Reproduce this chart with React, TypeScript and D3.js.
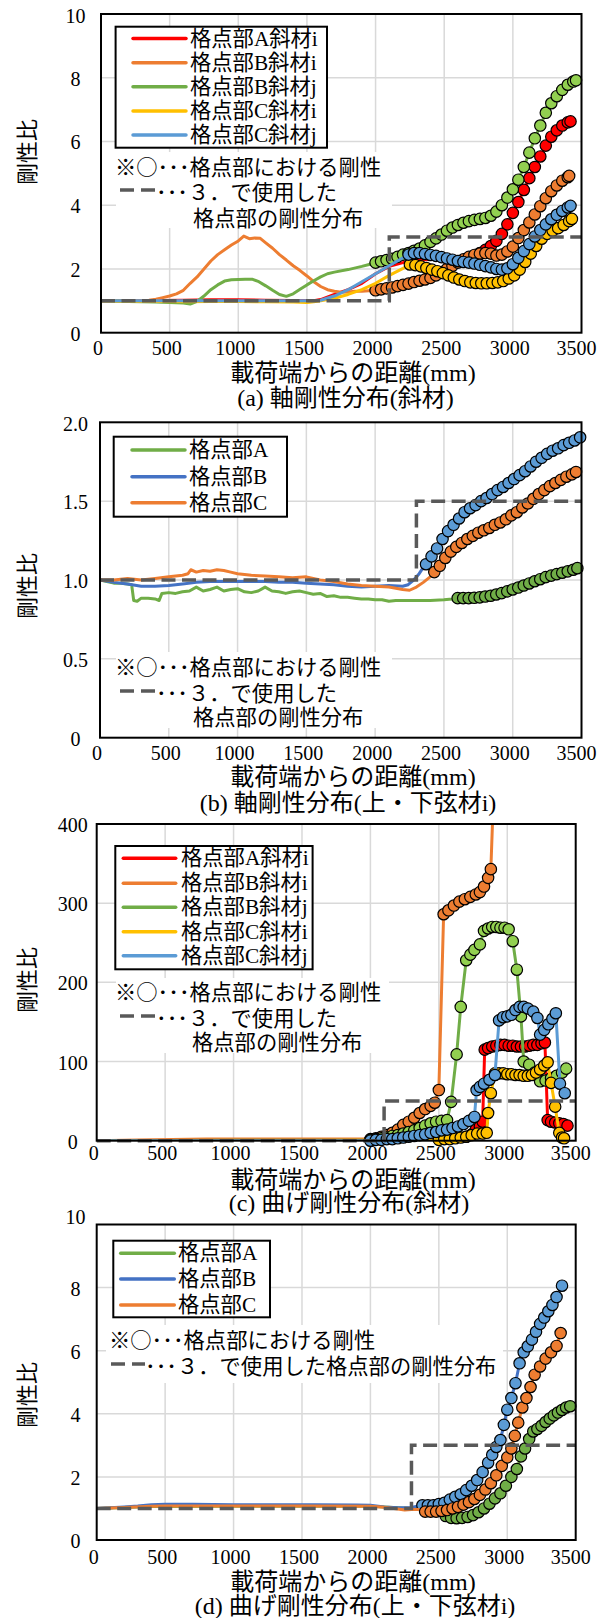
import React from "react";
import * as d3 from "d3";

type P = [number, number];

// ---------- shared labels / ticks ----------
const xTickValues = [0, 500, 1000, 1500, 2000, 2500, 3000, 3500];
const yTicksA = [0, 2, 4, 6, 8, 10];
const yTicksB = [0, 0.5, 1.0, 1.5, 2.0];
const yTicksC = [0, 100, 200, 300, 400];
const yTicksD = [0, 2, 4, 6, 8, 10];
const legendDiag = ["格点部A斜材i", "格点部B斜材i", "格点部B斜材j", "格点部C斜材i", "格点部C斜材j"];
const legendChord = ["格点部A", "格点部B", "格点部C"];
const captions = [
  "(a) 軸剛性分布(斜材)",
  "(b) 軸剛性分布(上・下弦材i)",
  "(c) 曲げ剛性分布(斜材)",
  "(d) 曲げ剛性分布(上・下弦材i)",
];
const xTitle = "載荷端からの距離(mm)";
const yTitle = "剛性比";
const noteLine1 = "※○･･･格点部における剛性";
const noteLine2 = "･･･３．で使用した";
const noteLine3 = "格点部の剛性分布";
const noteLine2Long = "･･･３．で使用した格点部の剛性分布";

// ---------- (a) 軸剛性分布(斜材) ----------
const aStep: P[] = [[0, 1], [2100, 1], [2100, 3], [3500, 3]];
const aRed: P[] = [[0, 1.0], [200, 1.0], [400, 1.01], [600, 1.02], [800, 1.03], [1000, 1.03], [1200, 1.02], [1400, 1.01], [1550, 1.0], [1600, 1.04], [1700, 1.2], [1800, 1.35], [1900, 1.55], [2000, 1.85], [2100, 2.08], [2200, 2.2], [2300, 2.28], [2400, 2.3], [2500, 2.3], [2600, 2.35], [2700, 2.45], [2760, 2.5], [2800, 2.6], [2840, 2.72], [2880, 2.88], [2920, 3.1], [2960, 3.4], [3000, 3.76], [3040, 4.1], [3080, 4.48], [3120, 4.85], [3160, 5.2], [3200, 5.53], [3240, 5.87], [3280, 6.15], [3320, 6.35], [3360, 6.5], [3400, 6.6], [3420, 6.63]];
const aOrange: P[] = [[0, 1.0], [300, 1.0], [350, 1.02], [400, 1.05], [450, 1.1], [500, 1.15], [550, 1.22], [600, 1.33], [650, 1.55], [700, 1.75], [750, 2.0], [800, 2.25], [850, 2.45], [900, 2.6], [950, 2.75], [1000, 2.88], [1040, 3.03], [1080, 2.95], [1120, 2.97], [1160, 2.96], [1200, 2.82], [1250, 2.65], [1300, 2.45], [1350, 2.28], [1400, 2.1], [1450, 1.95], [1500, 1.78], [1550, 1.6], [1600, 1.45], [1650, 1.35], [1700, 1.3], [1750, 1.27], [1800, 1.28], [1850, 1.3], [1900, 1.3], [1950, 1.32], [2000, 1.33], [2040, 1.36], [2080, 1.39], [2120, 1.42], [2160, 1.46], [2200, 1.5], [2240, 1.54], [2280, 1.59], [2320, 1.63], [2360, 1.67], [2400, 1.72], [2440, 1.8], [2480, 1.9], [2520, 2.0], [2560, 2.1], [2600, 2.2], [2640, 2.3], [2680, 2.38], [2720, 2.44], [2760, 2.48], [2800, 2.5], [2840, 2.48], [2880, 2.42], [2920, 2.45], [2960, 2.55], [3000, 2.7], [3040, 2.97], [3080, 3.22], [3120, 3.46], [3160, 3.71], [3200, 3.97], [3240, 4.22], [3280, 4.44], [3320, 4.62], [3360, 4.77], [3400, 4.88], [3410, 4.92]];
const aGreen: P[] = [[0, 1.0], [200, 0.98], [400, 0.96], [500, 0.95], [600, 0.93], [650, 0.9], [700, 0.98], [750, 1.15], [800, 1.35], [850, 1.5], [900, 1.62], [950, 1.66], [1000, 1.67], [1050, 1.68], [1100, 1.68], [1150, 1.6], [1200, 1.47], [1250, 1.33], [1300, 1.2], [1350, 1.14], [1400, 1.22], [1450, 1.36], [1500, 1.5], [1550, 1.63], [1600, 1.75], [1650, 1.85], [1700, 1.9], [1800, 1.98], [1900, 2.08], [1960, 2.15], [2000, 2.2], [2040, 2.24], [2080, 2.28], [2120, 2.32], [2160, 2.38], [2200, 2.45], [2240, 2.5], [2280, 2.57], [2320, 2.64], [2360, 2.74], [2400, 2.85], [2440, 2.96], [2480, 3.08], [2520, 3.2], [2560, 3.3], [2600, 3.38], [2640, 3.45], [2680, 3.5], [2720, 3.54], [2760, 3.57], [2800, 3.6], [2840, 3.67], [2880, 3.8], [2920, 4.0], [2960, 4.24], [3000, 4.5], [3040, 4.8], [3080, 5.2], [3120, 5.65], [3160, 6.1], [3200, 6.5], [3240, 6.9], [3280, 7.2], [3320, 7.42], [3360, 7.62], [3400, 7.78], [3440, 7.88], [3460, 7.92]];
const aYellow: P[] = [[0, 1.0], [200, 0.99], [400, 0.98], [600, 0.97], [800, 0.98], [1000, 0.98], [1200, 0.97], [1400, 0.96], [1500, 0.95], [1550, 0.97], [1600, 1.0], [1700, 1.08], [1800, 1.2], [1900, 1.35], [2000, 1.55], [2100, 1.8], [2200, 2.02], [2250, 2.14], [2290, 2.12], [2330, 2.08], [2370, 2.03], [2410, 1.98], [2450, 1.93], [2490, 1.87], [2530, 1.8], [2570, 1.73], [2610, 1.67], [2650, 1.62], [2690, 1.58], [2730, 1.56], [2770, 1.55], [2810, 1.55], [2850, 1.56], [2890, 1.58], [2930, 1.62], [2970, 1.7], [3010, 1.8], [3050, 1.98], [3090, 2.22], [3130, 2.48], [3170, 2.72], [3210, 2.95], [3250, 3.1], [3290, 3.2], [3330, 3.28], [3370, 3.38], [3410, 3.5], [3430, 3.57]];
const aBlue: P[] = [[0, 1.0], [400, 1.0], [800, 1.0], [1200, 1.0], [1550, 1.0], [1600, 1.02], [1700, 1.15], [1800, 1.35], [1900, 1.6], [2000, 1.85], [2100, 2.1], [2200, 2.35], [2240, 2.45], [2280, 2.5], [2320, 2.5], [2360, 2.47], [2400, 2.44], [2440, 2.41], [2480, 2.37], [2520, 2.33], [2560, 2.29], [2600, 2.25], [2640, 2.22], [2680, 2.2], [2720, 2.17], [2760, 2.13], [2800, 2.09], [2840, 2.05], [2880, 2.0], [2920, 1.98], [2960, 2.02], [3000, 2.15], [3040, 2.35], [3080, 2.56], [3120, 2.78], [3160, 3.02], [3200, 3.22], [3240, 3.4], [3280, 3.56], [3320, 3.7], [3360, 3.82], [3400, 3.93], [3420, 3.98]];

// ---------- (b) 軸剛性分布(上・下弦材i) ----------
const bStep: P[] = [[0, 1], [2300, 1], [2300, 1.5], [3500, 1.5]];
const bGreen: P[] = [[0, 1.0], [50, 0.99], [100, 0.98], [150, 0.98], [200, 0.975], [230, 0.97], [245, 0.87], [270, 0.865], [300, 0.885], [350, 0.885], [400, 0.88], [430, 0.87], [450, 0.915], [500, 0.92], [550, 0.915], [600, 0.925], [650, 0.93], [700, 0.955], [750, 0.93], [800, 0.94], [850, 0.955], [900, 0.93], [950, 0.94], [1000, 0.945], [1050, 0.925], [1100, 0.92], [1150, 0.93], [1200, 0.955], [1250, 0.93], [1300, 0.925], [1350, 0.915], [1400, 0.925], [1450, 0.93], [1500, 0.92], [1550, 0.91], [1600, 0.915], [1650, 0.895], [1700, 0.9], [1750, 0.89], [1800, 0.89], [1850, 0.885], [1900, 0.88], [1950, 0.88], [2000, 0.875], [2050, 0.875], [2100, 0.865], [2150, 0.87], [2200, 0.87], [2300, 0.87], [2400, 0.87], [2500, 0.875], [2560, 0.88], [2600, 0.885], [2640, 0.885], [2680, 0.885], [2720, 0.887], [2760, 0.89], [2800, 0.895], [2840, 0.9], [2880, 0.908], [2920, 0.917], [2960, 0.928], [3000, 0.94], [3040, 0.952], [3080, 0.965], [3120, 0.978], [3160, 0.992], [3200, 1.005], [3240, 1.018], [3280, 1.028], [3320, 1.037], [3360, 1.046], [3400, 1.055], [3440, 1.065], [3470, 1.075]];
const bBlue: P[] = [[0, 1.0], [100, 0.985], [200, 0.975], [300, 0.96], [400, 0.96], [500, 0.965], [600, 0.975], [700, 0.985], [800, 0.99], [900, 0.99], [1000, 0.99], [1100, 0.99], [1200, 0.99], [1300, 0.985], [1400, 0.985], [1500, 0.98], [1600, 0.975], [1700, 0.97], [1800, 0.96], [1900, 0.955], [2000, 0.96], [2100, 0.965], [2200, 0.96], [2240, 0.97], [2280, 1.0], [2320, 1.04], [2350, 1.08], [2370, 1.1], [2410, 1.15], [2450, 1.2], [2490, 1.26], [2530, 1.31], [2570, 1.35], [2610, 1.39], [2650, 1.43], [2690, 1.455], [2730, 1.475], [2770, 1.5], [2810, 1.52], [2850, 1.545], [2890, 1.57], [2930, 1.59], [2970, 1.615], [3010, 1.64], [3050, 1.665], [3090, 1.69], [3130, 1.72], [3170, 1.75], [3210, 1.775], [3250, 1.8], [3290, 1.82], [3330, 1.835], [3370, 1.855], [3410, 1.87], [3450, 1.885], [3490, 1.905]];
const bOrange: P[] = [[0, 1.0], [100, 1.0], [200, 1.01], [300, 1.0], [400, 1.01], [500, 1.02], [600, 1.03], [640, 1.04], [660, 1.065], [700, 1.05], [750, 1.06], [800, 1.055], [850, 1.065], [900, 1.06], [950, 1.05], [1000, 1.04], [1100, 1.03], [1200, 1.025], [1300, 1.02], [1400, 1.015], [1500, 1.02], [1550, 1.01], [1600, 1.0], [1700, 0.99], [1800, 0.975], [1900, 0.965], [2000, 0.96], [2100, 0.955], [2200, 0.94], [2250, 0.935], [2300, 0.955], [2350, 0.985], [2400, 1.02], [2430, 1.05], [2470, 1.09], [2510, 1.14], [2550, 1.18], [2590, 1.21], [2630, 1.235], [2670, 1.26], [2710, 1.28], [2750, 1.3], [2790, 1.315], [2830, 1.33], [2870, 1.35], [2910, 1.365], [2950, 1.385], [2990, 1.41], [3030, 1.43], [3070, 1.46], [3110, 1.485], [3150, 1.515], [3190, 1.545], [3230, 1.57], [3270, 1.595], [3310, 1.615], [3350, 1.635], [3390, 1.655], [3430, 1.67], [3460, 1.685]];

// ---------- (c) 曲げ剛性分布(斜材) ----------
const cStep: P[] = [[0, 0], [2100, 0], [2100, 50], [3500, 50]];
const cRed: P[] = [[0, 0], [1000, 0], [2000, 0.5], [2400, 2], [2700, 5], [2740, 8], [2770, 14], [2800, 18], [2820, 24], [2835, 115], [2860, 117], [2890, 119], [2920, 120], [2950, 121], [2980, 121], [3010, 120], [3040, 120], [3070, 119], [3100, 119], [3130, 119], [3160, 120], [3190, 121], [3220, 121], [3250, 123], [3275, 124], [3295, 26], [3320, 24], [3350, 23], [3380, 22], [3410, 21], [3440, 19]];
const cOrange: P[] = [[0, 0], [300, 1], [800, 2], [1500, 2], [2000, 2], [2040, 3], [2080, 5], [2120, 7], [2160, 10], [2200, 14], [2240, 20], [2280, 24], [2320, 29], [2360, 35], [2400, 40], [2440, 44], [2470, 48], [2500, 64], [2535, 286], [2570, 291], [2610, 297], [2650, 302], [2690, 305], [2730, 308], [2770, 311], [2800, 314], [2830, 321], [2860, 332], [2880, 343], [2900, 440]];
const cGreen: P[] = [[0, 0], [1000, 0.5], [2000, 1], [2040, 2], [2080, 3], [2120, 4], [2160, 6], [2200, 7], [2240, 9], [2280, 11], [2320, 13], [2360, 16], [2400, 19], [2440, 22], [2480, 24], [2520, 25], [2560, 26], [2590, 49], [2630, 109], [2660, 169], [2700, 228], [2730, 235], [2760, 241], [2800, 248], [2830, 265], [2860, 268], [2890, 270], [2920, 270], [2950, 269], [2980, 269], [3010, 267], [3040, 252], [3070, 216], [3100, 157], [3120, 100], [3160, 96], [3200, 86], [3240, 75], [3280, 76], [3320, 79], [3360, 82], [3400, 86], [3430, 91]];
const cYellow: P[] = [[0, 0], [1000, 0], [2000, 0.5], [2500, 1], [2540, 2], [2580, 2], [2620, 3], [2660, 4], [2700, 5], [2740, 7], [2780, 9], [2820, 9], [2850, 10], [2860, 35], [2880, 60], [2910, 85], [2940, 85], [2970, 85], [3000, 84], [3030, 84], [3060, 83], [3090, 83], [3120, 82], [3150, 82], [3180, 83], [3210, 86], [3240, 90], [3270, 95], [3295, 99], [3320, 73], [3350, 43], [3380, 10], [3400, 4], [3415, 3]];
const cBlue: P[] = [[0, 0], [1000, 0], [2000, 0], [2040, 1], [2080, 1], [2120, 2], [2160, 2], [2200, 3], [2240, 4], [2280, 5], [2320, 6], [2360, 7], [2400, 8], [2440, 10], [2480, 11], [2520, 13], [2560, 14], [2600, 16], [2640, 18], [2680, 21], [2720, 25], [2760, 30], [2776, 64], [2800, 68], [2830, 72], [2870, 77], [2910, 83], [2940, 152], [2970, 156], [3000, 157], [3030, 159], [3060, 165], [3090, 169], [3120, 169], [3150, 167], [3190, 163], [3220, 155], [3240, 134], [3270, 140], [3300, 147], [3330, 154], [3355, 161], [3385, 72], [3420, 60]];

// ---------- (d) 曲げ剛性分布(上・下弦材i) ----------
const dStep: P[] = [[0, 1], [2300, 1], [2300, 3], [3500, 3]];
const dGreen: P[] = [[0, 1.0], [200, 1.03], [400, 1.06], [1000, 1.07], [2000, 1.07], [2200, 1.02], [2300, 1.0], [2400, 0.95], [2500, 0.85], [2550, 0.76], [2590, 0.7], [2630, 0.69], [2670, 0.7], [2710, 0.73], [2750, 0.79], [2790, 0.88], [2830, 1.0], [2870, 1.15], [2910, 1.32], [2950, 1.48], [2990, 1.72], [3030, 2.0], [3070, 2.25], [3100, 2.65], [3130, 2.9], [3160, 3.2], [3190, 3.44], [3220, 3.52], [3250, 3.62], [3280, 3.74], [3310, 3.85], [3340, 3.95], [3370, 4.04], [3400, 4.12], [3430, 4.2], [3460, 4.24]];
const dBlue: P[] = [[0, 1.0], [100, 1.02], [200, 1.05], [300, 1.08], [400, 1.12], [500, 1.13], [700, 1.13], [1000, 1.12], [1300, 1.12], [1600, 1.12], [1900, 1.11], [2000, 1.1], [2100, 1.05], [2200, 1.02], [2300, 1.03], [2350, 1.08], [2380, 1.1], [2420, 1.1], [2460, 1.1], [2500, 1.14], [2540, 1.18], [2580, 1.28], [2620, 1.37], [2660, 1.45], [2700, 1.58], [2740, 1.72], [2780, 1.9], [2820, 2.15], [2860, 2.45], [2890, 2.7], [2920, 2.95], [2950, 3.17], [2975, 3.65], [3000, 4.13], [3030, 4.5], [3060, 4.97], [3090, 5.6], [3120, 5.95], [3150, 6.14], [3180, 6.35], [3210, 6.6], [3240, 6.85], [3270, 7.05], [3300, 7.25], [3330, 7.45], [3360, 7.7], [3400, 8.06]];
const dOrange: P[] = [[0, 1.0], [200, 1.03], [400, 1.07], [500, 1.08], [1000, 1.08], [1500, 1.08], [2000, 1.07], [2100, 1.04], [2200, 0.98], [2250, 0.95], [2300, 0.97], [2350, 0.97], [2400, 0.9], [2440, 0.9], [2480, 0.9], [2520, 0.92], [2560, 0.95], [2600, 1.0], [2640, 1.05], [2680, 1.12], [2720, 1.2], [2760, 1.3], [2800, 1.43], [2840, 1.6], [2880, 1.8], [2920, 2.05], [2960, 2.35], [3000, 2.62], [3030, 2.9], [3055, 3.3], [3080, 3.72], [3110, 4.2], [3140, 4.5], [3170, 4.85], [3200, 5.24], [3240, 5.5], [3280, 5.75], [3320, 5.95], [3360, 6.15], [3390, 6.56]];

// ---------- styles ----------
const SERIF = "'Liberation Serif','Times New Roman',Times,'Noto Sans CJK JP',serif";
const JP = "'Noto Sans CJK JP','Noto Sans CJK SC',sans-serif";
const C_RED = "#FF0000";
const C_ORANGE = "#ED7D31";
const C_GREEN = "#70AD47";
const C_LGREEN = "#92D050";
const C_YELLOW = "#FFC000";
const C_LBLUE = "#5B9BD5";
const C_BLUE = "#4472C4";
const C_GRID = "#D9D9D9";
const C_DASH = "#595959";

interface Series { pts: P[]; from: number; stroke: string; fill: string }
interface Cfg {
  top: number; bottom: number; left: number; right: number; yMax: number;
  yTicks: number[]; fmt: (v: number) => string; tickX: number; topLabelDy: number;
  xTickY: number; xTitleY: number; captionX: number; captionY: number; caption: string; yTitleY: number;
  series: Series[]; step: P[];
  legend: { x: number; y: number; w: number; h: number; lx1: number; lx2: number; tx: number; rows: number[]; labels: string[]; colors: string[] };
  note: { x: number; y: number; w: number; h: number; tx: number; l1y: number; l2y: number; l3y: number | null; d1: number; d2: number; l2x: number; l3x: number; long: boolean };
}

const cfgs: Cfg[] = [
  {
    top: 14, bottom: 332.7, left: 101, right: 581.5, yMax: 10, yTicks: yTicksA, fmt: (v) => String(v), tickX: 75.5, topLabelDy: 2,
    xTickY: 348, xTitleY: 373, captionX: 345.5, captionY: 398, caption: captions[0], yTitleY: 152,
    series: [
      { pts: aRed, from: 2760, stroke: C_RED, fill: C_RED },
      { pts: aOrange, from: 2000, stroke: C_ORANGE, fill: C_ORANGE },
      { pts: aGreen, from: 2000, stroke: C_GREEN, fill: C_LGREEN },
      { pts: aYellow, from: 2250, stroke: C_YELLOW, fill: C_YELLOW },
      { pts: aBlue, from: 2240, stroke: C_LBLUE, fill: C_LBLUE },
    ],
    step: aStep,
    legend: { x: 115.6, y: 26.7, w: 211.4, h: 121, lx1: 133, lx2: 186, tx: 190, rows: [38.5, 62.7, 86.8, 111, 135], labels: legendDiag, colors: [C_RED, C_ORANGE, C_GREEN, C_YELLOW, C_LBLUE] },
    note: { x: 116, y: 152, w: 276, h: 76, tx: 115, l1y: 165, l2y: 190, l3y: 216.5, d1: 120, d2: 155, l2x: 156, l3x: 193, long: false },
  },
  {
    top: 422.3, bottom: 737.7, left: 100, right: 581.5, yMax: 2, yTicks: yTicksB, fmt: (v) => (v === 0 ? "0" : v.toFixed(1)), tickX: 75.5, topLabelDy: 2,
    xTickY: 753.3, xTitleY: 776.7, captionX: 348, captionY: 803, caption: captions[1], yTitleY: 586,
    series: [
      { pts: bGreen, from: 2600, stroke: C_GREEN, fill: C_GREEN },
      { pts: bBlue, from: 2370, stroke: C_BLUE, fill: C_LBLUE },
      { pts: bOrange, from: 2430, stroke: C_ORANGE, fill: C_ORANGE },
    ],
    step: bStep,
    legend: { x: 113.7, y: 436.7, w: 173.3, h: 80, lx1: 132, lx2: 185, tx: 189, rows: [450, 476.7, 502.7], labels: legendChord, colors: [C_GREEN, C_BLUE, C_ORANGE] },
    note: { x: 116, y: 652, w: 276, h: 76, tx: 115, l1y: 665, l2y: 691, l3y: 715, d1: 120, d2: 155, l2x: 156, l3x: 193, long: false },
  },
  {
    top: 824, bottom: 1140.7, left: 96.7, right: 575.7, yMax: 400, yTicks: yTicksC, fmt: (v) => String(v), tickX: 72.7, topLabelDy: 1,
    xTickY: 1153, xTitleY: 1180, captionX: 349, captionY: 1203, caption: captions[2], yTitleY: 980,
    series: [
      { pts: cRed, from: 2700, stroke: C_RED, fill: C_RED },
      { pts: cOrange, from: 2000, stroke: C_ORANGE, fill: C_ORANGE },
      { pts: cGreen, from: 2000, stroke: C_GREEN, fill: C_LGREEN },
      { pts: cYellow, from: 2500, stroke: C_YELLOW, fill: C_YELLOW },
      { pts: cBlue, from: 2000, stroke: C_LBLUE, fill: C_LBLUE },
    ],
    step: cStep,
    legend: { x: 115.3, y: 846, w: 197.3, h: 123.3, lx1: 123.3, lx2: 175.7, tx: 181, rows: [858.3, 883.3, 907.3, 931.7, 955.7], labels: legendDiag, colors: [C_RED, C_ORANGE, C_GREEN, C_YELLOW, C_LBLUE] },
    note: { x: 116, y: 978, w: 273, h: 75, tx: 115, l1y: 990, l2y: 1016, l3y: 1040.7, d1: 120, d2: 155, l2x: 156, l3x: 192, long: false },
  },
  {
    top: 1224.5, bottom: 1540, left: 96.7, right: 575.7, yMax: 10, yTicks: yTicksD, fmt: (v) => String(v), tickX: 75.5, topLabelDy: -8,
    xTickY: 1557, xTitleY: 1582, captionX: 355, captionY: 1606, caption: captions[3], yTitleY: 1395,
    series: [
      { pts: dGreen, from: 2550, stroke: C_GREEN, fill: C_GREEN },
      { pts: dBlue, from: 2380, stroke: C_BLUE, fill: C_LBLUE },
      { pts: dOrange, from: 2400, stroke: C_ORANGE, fill: C_ORANGE },
    ],
    step: dStep,
    legend: { x: 113.3, y: 1240.7, w: 156.7, h: 76.6, lx1: 120.7, lx2: 174.3, tx: 178, rows: [1253.3, 1279, 1305], labels: legendChord, colors: [C_GREEN, C_BLUE, C_ORANGE] },
    note: { x: 106, y: 1325, w: 397, h: 58, tx: 109, l1y: 1338.3, l2y: 1364, l3y: null, d1: 111, d2: 145, l2x: 145, l3x: 0, long: true },
  },
];

function Panel({ cfg, idx }: { cfg: Cfg; idx: number }) {
  const x = d3.scaleLinear().domain([0, 3500]).range([cfg.left, cfg.right]);
  const y = d3.scaleLinear().domain([0, cfg.yMax]).range([cfg.bottom, cfg.top]);
  const line = d3.line<P>().x((d) => x(d[0])).y((d) => y(d[1]));
  const clipId = `plotclip${idx}`;
  const lg = cfg.legend;
  const nt = cfg.note;
  const lastX = xTickValues[xTickValues.length - 1];
  return (
    <g>
      <defs>
        <clipPath id={clipId}>
          <rect x={cfg.left} y={cfg.top} width={cfg.right - cfg.left} height={cfg.bottom - cfg.top} />
        </clipPath>
      </defs>
      {xTickValues.slice(1, -1).map((v) => (
        <line key={"gx" + v} x1={x(v)} x2={x(v)} y1={cfg.top} y2={cfg.bottom} stroke={C_GRID} strokeWidth={1.5} />
      ))}
      {cfg.yTicks.slice(1, -1).map((v) => (
        <line key={"gy" + v} x1={cfg.left} x2={cfg.right} y1={y(v)} y2={y(v)} stroke={C_GRID} strokeWidth={1.5} />
      ))}
      <rect x={nt.x} y={nt.y} width={nt.w} height={nt.h} fill="#fff" />
      {cfg.series.map((s, k) => (
        <g key={"s" + k}>
          <path d={line(s.pts) || ""} fill="none" stroke={s.stroke} strokeWidth={3} strokeLinejoin="round" strokeLinecap="round" clipPath={`url(#${clipId})`} />
          {s.pts.filter((p) => p[0] >= s.from && p[1] <= cfg.yMax).map((p, j) => (
            <circle key={j} cx={x(p[0])} cy={y(p[1])} r={5.7} fill={s.fill} stroke="#000" strokeWidth={1.2} />
          ))}
        </g>
      ))}
      <path d={line(cfg.step) || ""} fill="none" stroke={C_DASH} strokeWidth={3.5} strokeDasharray="14 6.5" />
      <rect x={cfg.left} y={cfg.top} width={cfg.right - cfg.left} height={cfg.bottom - cfg.top} fill="none" stroke="#000" strokeWidth={2} />
      <rect x={lg.x} y={lg.y} width={lg.w} height={lg.h} fill="#fff" stroke="#000" strokeWidth={2} />
      {lg.labels.map((t, k) => (
        <g key={"lg" + k}>
          <line x1={lg.lx1} x2={lg.lx2} y1={lg.rows[k]} y2={lg.rows[k]} stroke={lg.colors[k]} strokeWidth={3.5} strokeLinecap="round" />
          <text x={lg.tx} y={lg.rows[k]} dominantBaseline="central" fontSize={21.3} fontFamily={SERIF} fill="#000">{t}</text>
        </g>
      ))}
      <text x={nt.tx} y={nt.l1y} dominantBaseline="central" fontSize={21.3} fontFamily={JP} fill="#000">{noteLine1}</text>
      <line x1={nt.d1} x2={nt.d2} y1={nt.l2y} y2={nt.l2y} stroke={C_DASH} strokeWidth={3.5} strokeDasharray="14 7" />
      <text x={nt.l2x} y={nt.l2y} dominantBaseline="central" fontSize={21.3} fontFamily={JP} fill="#000">{nt.long ? noteLine2Long : noteLine2}</text>
      {nt.l3y !== null && (
        <text x={nt.l3x} y={nt.l3y} dominantBaseline="central" fontSize={21.3} fontFamily={JP} fill="#000">{noteLine3}</text>
      )}
      {cfg.yTicks.map((v, k) => (
        <text key={"yt" + v} x={cfg.tickX} y={y(v) + (k === cfg.yTicks.length - 1 ? cfg.topLabelDy : 1)} textAnchor="middle" dominantBaseline="central" fontSize={20} fontFamily={SERIF} fill="#000">
          {cfg.fmt(v)}
        </text>
      ))}
      {xTickValues.map((v) => (
        <text key={"xt" + v} x={x(v) - (v === lastX ? 5 : 3)} y={cfg.xTickY} textAnchor="middle" dominantBaseline="central" fontSize={20} fontFamily={SERIF} fill="#000">
          {v}
        </text>
      ))}
      <text x={353} y={cfg.xTitleY} textAnchor="middle" dominantBaseline="central" fontSize={24} fontFamily={SERIF} fill="#000">{xTitle}</text>
      <text x={cfg.captionX} y={cfg.captionY} textAnchor="middle" dominantBaseline="central" fontSize={24} fontFamily={SERIF} fill="#000">{cfg.caption}</text>
      <text transform={`translate(25,${cfg.yTitleY}) rotate(-90)`} textAnchor="middle" dominantBaseline="central" fontSize={22} fontFamily={JP} fill="#000">{yTitle}</text>
    </g>
  );
}

export default function App() {
  return (
    <svg width={608} height={1618} viewBox="0 0 608 1618" style={{ position: "absolute", left: 0, top: 0, display: "block" }}>
      <rect x={0} y={0} width={608} height={1618} fill="#fff" />
      {cfgs.map((c, i) => (
        <Panel key={i} cfg={c} idx={i} />
      ))}
    </svg>
  );
}
